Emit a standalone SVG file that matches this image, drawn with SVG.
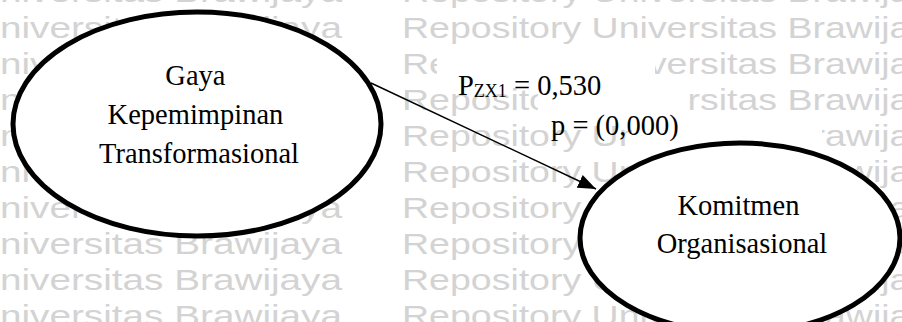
<svg xmlns="http://www.w3.org/2000/svg" width="902" height="322" viewBox="0 0 902 322">
  <style>
    .wm { font-family: "Liberation Sans", Arial, sans-serif; font-size: 29px; fill: #d3d3d3; }
    .node { fill: #ffffff; stroke: #000000; stroke-width: 5; }
    .lbl { font-family: "Liberation Serif", "Times New Roman", serif; font-size: 28.5px; fill: #000000; }
    .sub { font-size: 18px; }
    .edge { stroke: #000000; stroke-width: 1.5; fill: none; }
    .box { fill: #ffffff; }
  </style>
  <defs>
    <marker id="arrow" markerUnits="userSpaceOnUse" markerWidth="18" markerHeight="14" refX="18" refY="7" orient="auto">
      <path d="M0,0 L18,7 L0,14 z" fill="#000000"/>
    </marker>
    <g id="wmrow">
      <text class="wm" x="-28" y="0" textLength="370" lengthAdjust="spacingAndGlyphs">Universitas Brawijaya</text>
      <text class="wm" x="402" y="0" textLength="548" lengthAdjust="spacingAndGlyphs">Repository Universitas Brawijaya</text>
    </g>
  </defs>

  <rect width="902" height="322" fill="#ffffff"/>

  <!-- background watermark rows -->
  <g id="watermark">
    <use href="#wmrow" y="2"/>
    <use href="#wmrow" y="38"/>
    <use href="#wmrow" y="74"/>
    <use href="#wmrow" y="110"/>
    <use href="#wmrow" y="146"/>
    <use href="#wmrow" y="182"/>
    <use href="#wmrow" y="218"/>
    <use href="#wmrow" y="254"/>
    <use href="#wmrow" y="290"/>
    <use href="#wmrow" y="326"/>
  </g>

  <!-- path coefficient label -->
  <g id="label">
    <rect class="box" x="437" y="47" width="218" height="40"/>
    <rect class="box" x="538" y="85" width="150" height="40"/>
    <rect class="box" x="632" y="123" width="190" height="26"/>
    <text class="lbl" x="458" y="95">P<tspan class="sub" dy="2">ZX1</tspan><tspan dy="-2"> = 0,530</tspan></text>
    <text class="lbl" x="551" y="135">p = (0,000)</text>
  </g>

  <g id="connectors">
    <line class="edge" x1="371" y1="83" x2="596" y2="189" marker-end="url(#arrow)"/>
  </g>

  <g id="node-gaya">
    <ellipse class="node" cx="197" cy="124" rx="184" ry="112"/>
    <text class="lbl" text-anchor="middle">
      <tspan x="199" y="85">Gaya</tspan>
      <tspan x="199" y="124">Kepemimpinan</tspan>
      <tspan x="199" y="163">Transformasional</tspan>
    </text>
  </g>

  <g id="node-komitmen">
    <ellipse class="node" cx="740" cy="238" rx="160" ry="95"/>
    <text class="lbl" text-anchor="middle">
      <tspan x="742" y="215">Komitmen</tspan>
      <tspan x="742" y="253">Organisasional</tspan>
    </text>
  </g>
</svg>
